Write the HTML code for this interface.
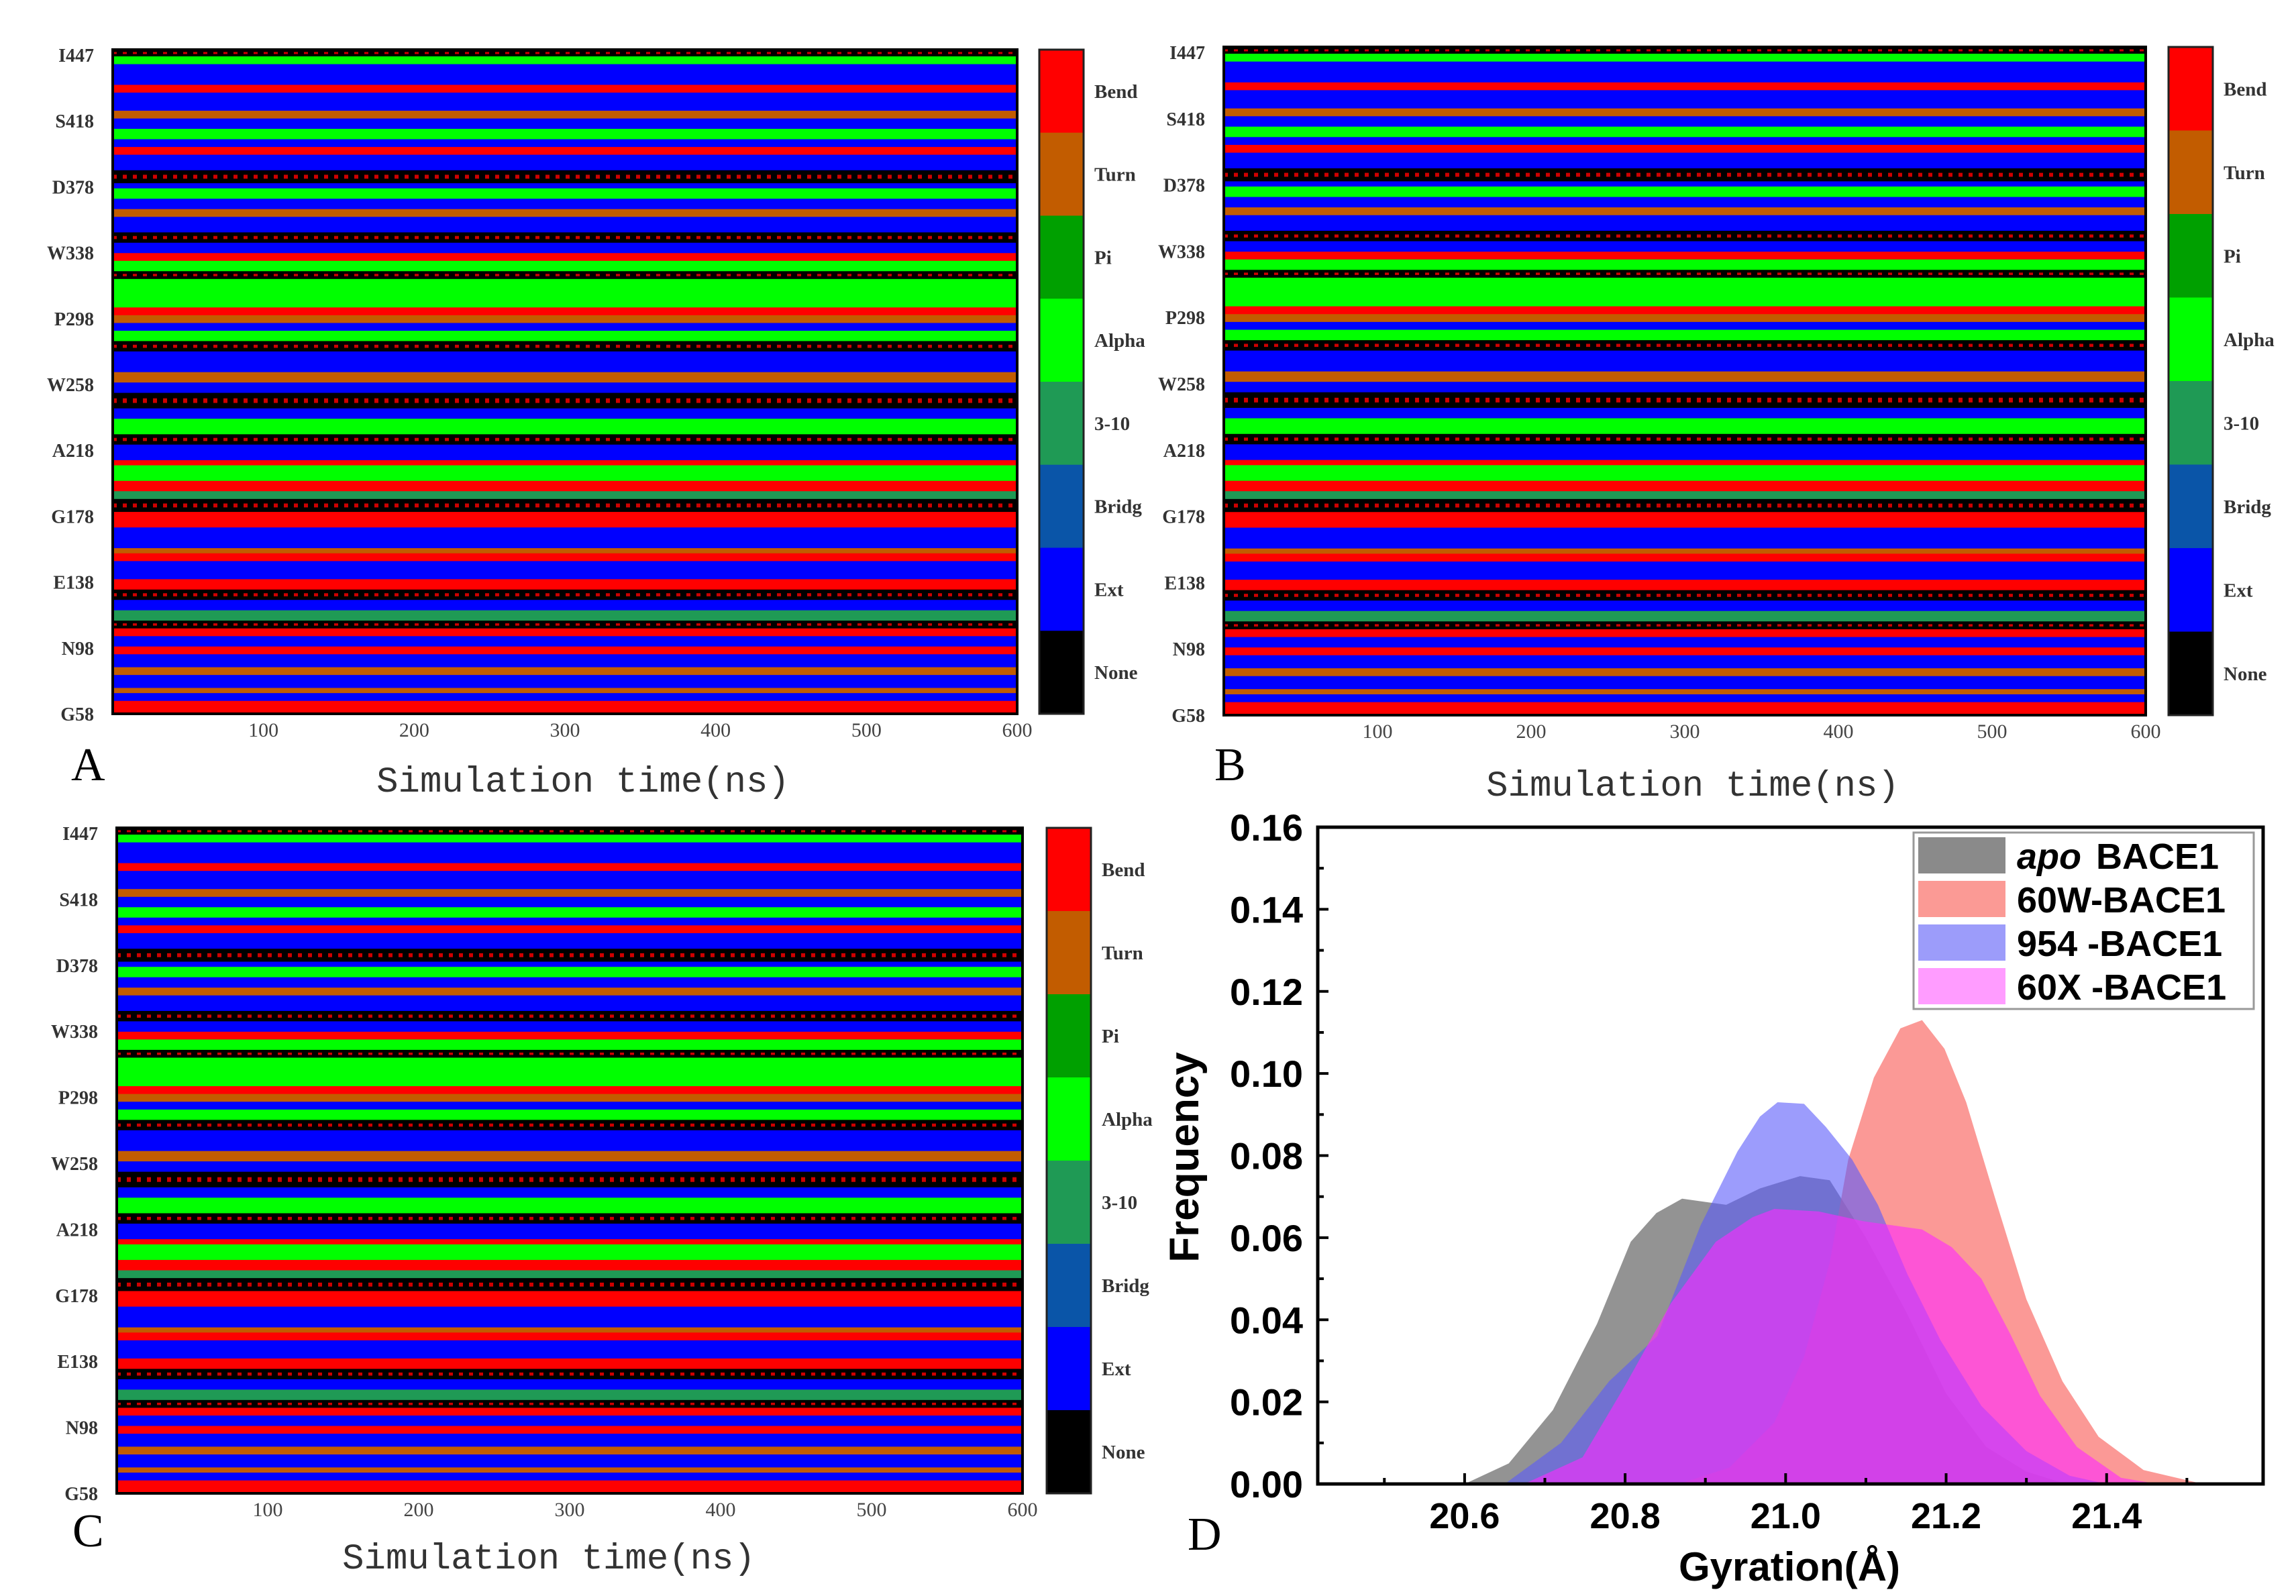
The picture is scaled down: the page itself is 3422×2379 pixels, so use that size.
<!DOCTYPE html>
<html><head><meta charset="utf-8"><style>
html,body{margin:0;padding:0;background:#fff;}
svg{display:block;}
.ser{font-family:"Liberation Serif",serif;}
.mono{font-family:"Liberation Mono",monospace;}
.sans{font-family:"Liberation Sans",sans-serif;font-weight:bold;}
</style></head><body>
<svg id="fig" width="3422" height="2379" viewBox="0 0 3422 2379" xmlns="http://www.w3.org/2000/svg"></svg>
<script>
// ---- heatmap data (secondary-structure bands, top to bottom) ----
const bandStates = ["N","A","E","R","E","T","E","A","E","R","E","N","E","A","E","T","E","N","E","R","A","N","A","R","T","E","A","N","E","T","E","N","E","A","N","E","R","A","R","M","N","R","E","T","R","E","R","N","E","M","N","R","E","R","E","T","E","T","E","R"];
const bandWeights = [1.3,1.5,4,1.5,3.5,1.5,2,2,1.5,1.5,3,2.5,1,2,2,1.5,3,2,2,1.5,2,1.5,5.5,1.5,1.5,1.5,2,2,4,2,2,3,2,3,2,3,1,3,2,1.5,2.5,3,4,1,1.5,3.5,2,2,2,2,1.5,1.5,2,1.5,2.5,1.5,2.5,1,1.5,2.5];
const residueLabels = ["I447","S418","D378","W338","P298","W258","A218","G178","E138","N98","G58"];
const timeTicks = [100,200,300,400,500,600];
const ssNames = ["Bend","Turn","Pi","Alpha","3-10","Bridg","Ext","None"];
const ssColors = ["#ff0000","#c25c00","#00a000","#00ff00","#1f9a55","#0a55a8","#0000ff","#000000"];
// ---- gyration distribution data ----
const gyrTicks = [20.6,20.8,21.0,21.2,21.4];
const freqTicks = [0.00,0.02,0.04,0.06,0.08,0.10,0.12,0.14,0.16];
const apoX = [20.55,20.6,20.655,20.71,20.765,20.807,20.839,20.871,20.926,20.968,21.018,21.055,21.1,21.15,21.2,21.25,21.3,21.35];
const apoY = [0,0,0.005,0.018,0.039,0.059,0.066,0.0695,0.068,0.072,0.075,0.074,0.06,0.042,0.022,0.009,0.003,0];
const w60X = [20.867,20.93,20.986,21.023,21.055,21.078,21.11,21.143,21.17,21.198,21.225,21.262,21.3,21.345,21.39,21.446,21.52];
const w60Y = [0,0.004,0.015,0.031,0.054,0.079,0.099,0.111,0.113,0.106,0.093,0.069,0.045,0.025,0.0115,0.0034,0];
const b954X = [20.65,20.72,20.78,20.84,20.894,20.94,20.968,20.99,21.023,21.05,21.083,21.115,21.152,21.193,21.244,21.3,21.354,21.4];
const b954Y = [0,0.01,0.025,0.036,0.063,0.081,0.0895,0.093,0.0926,0.087,0.079,0.068,0.051,0.035,0.019,0.008,0.002,0];
const x60X = [20.674,20.747,20.8,20.857,20.913,20.959,20.986,21.041,21.097,21.17,21.207,21.244,21.28,21.317,21.363,21.418,21.464];
const x60Y = [0,0.0065,0.024,0.044,0.059,0.065,0.067,0.0664,0.064,0.062,0.0577,0.05,0.0365,0.0215,0.009,0.0015,0];
const seriesNames = ["apo BACE1","60W-BACE1","954 -BACE1","60X -BACE1"];

const NS="http://www.w3.org/2000/svg";
const svg=document.getElementById('fig');
function el(tag,attrs,parent,text){const e=document.createElementNS(NS,tag);for(const k in attrs)e.setAttribute(k,attrs[k]);if(text!==undefined)e.textContent=text;(parent||svg).appendChild(e);return e;}
const stateColor={R:"#ff0000",T:"#c25c00",A:"#00ff00",E:"#0000ff",N:"#000000",M:"#1f9a55"};

function heatPanel(id,x0,y0,w,h,cbx,letter,letterX,letterY,titleX,titleY){
  const g=el('g',{});
  
  
  const total=bandWeights.reduce((a,b)=>a+b,0);
  let y=y0;
  bandStates.forEach((s,i)=>{
    const bh=bandWeights[i]/total*h;
    const r=el('rect',{x:x0,y:y,width:w,height:bh+0.5,fill:stateColor[s]},g);
    
    
    if(s==='N'){el('line',{x1:x0,x2:x0+w,y1:y+bh/2,y2:y+bh/2,stroke:'#d00000','stroke-width':bh*0.3,'stroke-dasharray':'6 9'},g);}
    y+=bh;
  });
  el('rect',{x:x0,y:y0,width:w,height:h,fill:'none',stroke:'#000','stroke-width':4},g);
  const xs=v=>x0+v/600*w;
  timeTicks.forEach(t=>{
    const tx=el('text',{x:xs(t),y:y0+h+34,'text-anchor':'middle','font-size':30,fill:'#444',class:'ser'},g,String(t));
    
    
  });
  residueLabels.forEach((l,i)=>{
    const ty=y0+8+i*(h-8)/(residueLabels.length-1);
    const tx=el('text',{x:x0-28,y:ty+10,'text-anchor':'end','font-size':28,fill:'#333',class:'ser','font-weight':'bold'},g,l);
    
    
  });
  const segH=h/ssNames.length;
  ssNames.forEach((n,i)=>{
    const r=el('rect',{x:cbx,y:y0+i*segH,width:66,height:segH+0.5,fill:ssColors[i]},g);
    
    
    const t=el('text',{x:cbx+82,y:y0+i*segH+segH/2+10,'font-size':29,fill:'#333',class:'ser','font-weight':'bold'},g,n);
    
    
  });
  el('rect',{x:cbx,y:y0,width:66,height:h,fill:'none',stroke:'#222','stroke-width':3},g);
  const tt=el('text',{x:titleX,y:titleY,'text-anchor':'middle','font-size':54,fill:'#333',class:'mono'},g,'Simulation time(ns)');
  
  
  const lt=el('text',{x:letterX,y:letterY,'font-size':70,fill:'#000',class:'ser'},g,letter);
  
  
}
heatPanel('a',168,74,1348,990,1549,'A',106,1163,869,1180);
heatPanel('b',1824,70,1374,996,3232,'B',1810,1163,2523,1186);
heatPanel('c',174,1234,1350,992,1560,'C',108,2305,818,2338);

// ---- panel D ----
const D={x0:1964,x1:3373,y0:1233,y1:2212,xmin:20.417,xmax:21.595,ymin:0,ymax:0.16};
const sx=v=>D.x0+(v-D.xmin)/(D.xmax-D.xmin)*(D.x1-D.x0);
const sy=v=>D.y1-(v-D.ymin)/(D.ymax-D.ymin)*(D.y1-D.y0);
const gd=el('g',{});


function area(xs,ys,fill,name){
  let d='M'+sx(xs[0])+','+sy(0);
  xs.forEach((x,i)=>{d+=' L'+sx(x)+','+sy(ys[i]);});
  d+=' L'+sx(xs[xs.length-1])+','+sy(0)+' Z';
  const p=el('path',{d:d,fill:fill},gd);
  
  
}
area(apoX,apoY,'rgba(120,120,120,0.8)','area-apo');
area(w60X,w60Y,'rgba(250,110,105,0.7)','area-60w');
area(b954X,b954Y,'rgba(90,90,250,0.6)','area-954');
area(x60X,x60Y,'rgba(255,40,255,0.6)','area-60x');
el('rect',{x:D.x0,y:D.y0,width:D.x1-D.x0,height:D.y1-D.y0,fill:'none',stroke:'#000','stroke-width':5},gd);
freqTicks.forEach((t,i)=>{
  el('line',{x1:D.x0,x2:D.x0+16,y1:sy(t),y2:sy(t),stroke:'#000','stroke-width':4},gd);
  if(i<freqTicks.length-1) el('line',{x1:D.x0,x2:D.x0+9,y1:sy(t+0.01),y2:sy(t+0.01),stroke:'#000','stroke-width':4},gd);
  const tx=el('text',{x:D.x0-22,y:sy(t)+20,'text-anchor':'end','font-size':56,class:'sans'},gd,t.toFixed(2));
  
  
});
gyrTicks.forEach(t=>{
  el('line',{x1:sx(t),x2:sx(t),y1:D.y1,y2:D.y1-16,stroke:'#000','stroke-width':4},gd);
  el('line',{x1:sx(t-0.1),x2:sx(t-0.1),y1:D.y1,y2:D.y1-9,stroke:'#000','stroke-width':4},gd);
  const tx=el('text',{x:sx(t),y:D.y1+66,'text-anchor':'middle','font-size':54,class:'sans'},gd,t.toFixed(1));
  
  
});
el('line',{x1:sx(21.5),x2:sx(21.5),y1:D.y1,y2:D.y1-9,stroke:'#000','stroke-width':4},gd);
const yt=el('text',{x:0,y:0,'font-size':62,class:'sans','text-anchor':'middle',transform:'translate(1786,1725) rotate(-90)'},gd,'Frequency');


const xt=el('text',{x:2667,y:2356,'font-size':60,class:'sans','text-anchor':'middle'},gd,'Gyration(Å)');


const dl=el('text',{x:1770,y:2310,'font-size':70,class:'ser'},gd,'D');


// legend
const lg=el('g',{},gd);


el('rect',{x:2852,y:1241,width:507,height:263,fill:'#fff',stroke:'#999','stroke-width':3},lg);
const swatch=['#8a8a8a','#fb9a95','#9c9cfa','#ff9cff'];
seriesNames.forEach((n,i)=>{
  const cy=1275+i*65;
  const s=el('rect',{x:2859,y:cy-27,width:130,height:54,fill:swatch[i]},lg);
  
  
  const t=el('text',{x:3006,y:cy+20,'font-size':54,class:'sans'},lg);
  
  
  if(i===0){
    el('tspan',{'font-style':'italic'},t,'apo');
    el('tspan',{dx:22},t,'BACE1');
  } else t.textContent=n;
});
</script>
</body></html>
